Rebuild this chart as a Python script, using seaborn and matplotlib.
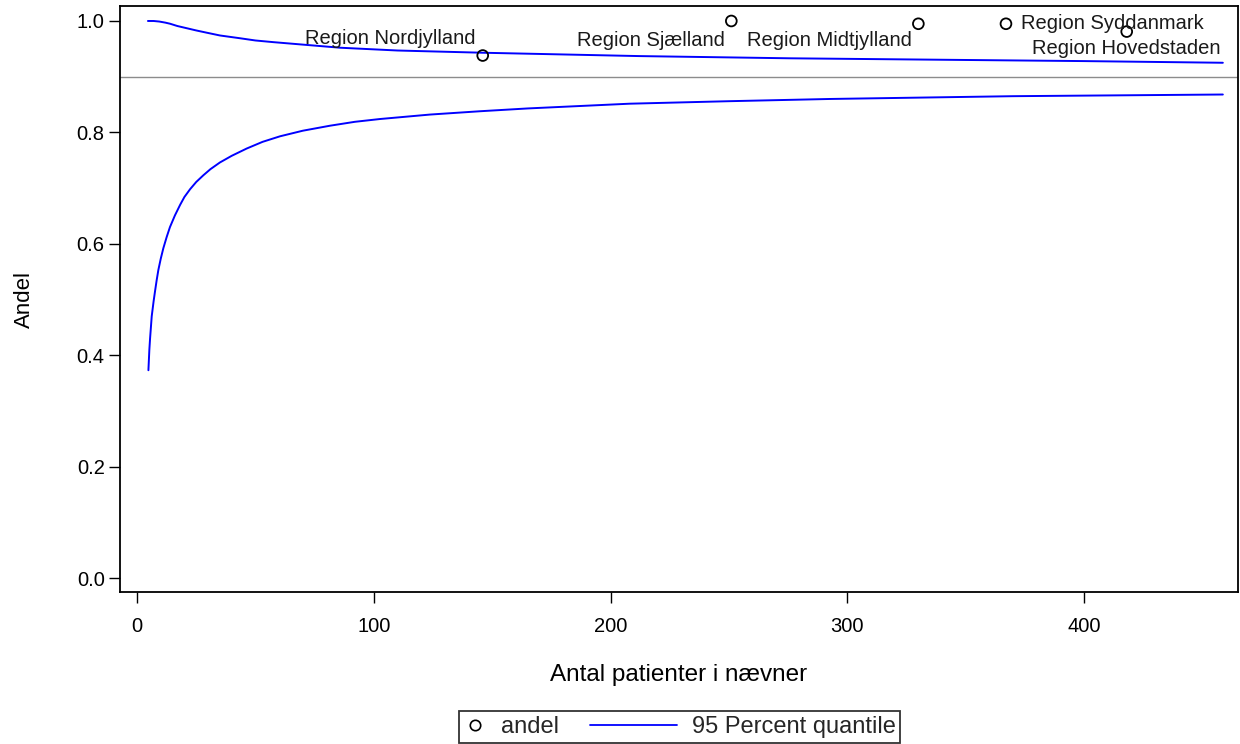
import matplotlib
matplotlib.use("Agg")
import matplotlib.pyplot as plt
import seaborn as sns
import pandas as pd
from matplotlib.lines import Line2D
from matplotlib.legend_handler import HandlerLine2D

# Regions: denominator (patients) and observed proportion
regions = ["Region Nordjylland", "Region Sjælland", "Region Midtjylland",
           "Region Syddanmark", "Region Hovedstaden"]
n_patients = [146, 251, 330, 367, 418]
andel = [0.938, 1.0, 0.995, 0.995, 0.981]

# Target proportion
target = 0.9

# 95 percent quantile limits, upper branch
upper_n = [4.6, 7.0, 9.4, 12.0, 14.0, 17.0, 21.0, 25.0, 29.4, 35.0, 43.5, 50.0,
           57.6, 71.7, 85.8, 110.0, 146.0, 212.0, 276.0, 350.0, 400.0, 458.6]
upper_q = [1.000, 1.000, 0.999, 0.997, 0.995, 0.991, 0.987, 0.983, 0.979, 0.974,
           0.969, 0.965, 0.962, 0.957, 0.952, 0.947, 0.943, 0.937, 0.933, 0.930,
           0.928, 0.925]

# 95 percent quantile limits, lower branch
lower_n = [4.8, 5.2, 5.5, 6.2, 7.0, 7.6, 8.3, 9.0, 10.0, 11.1, 12.5, 13.9, 16.0,
           18.2, 20.0, 22.4, 25.0, 28.0, 31.0, 35.0, 40.0, 46.3, 53.0, 60.4, 70.0,
           81.5, 92.0, 102.6, 123.7, 145.0, 165.0, 208.0, 250.0, 292.7, 370.0,
           458.6]
lower_q = [0.373, 0.410, 0.430, 0.470, 0.497, 0.515, 0.535, 0.553, 0.573, 0.592,
           0.612, 0.630, 0.651, 0.670, 0.684, 0.698, 0.711, 0.723, 0.734, 0.746,
           0.758, 0.771, 0.783, 0.793, 0.803, 0.812, 0.819, 0.824, 0.832, 0.838,
           0.843, 0.8515, 0.856, 0.860, 0.865, 0.868]

x_ticks = [0, 100, 200, 300, 400]
y_ticks = [0.0, 0.2, 0.4, 0.6, 0.8, 1.0]

points = pd.DataFrame({"region": regions, "n": n_patients, "andel": andel})
upper = pd.DataFrame({"n": upper_n, "q": upper_q})
lower = pd.DataFrame({"n": lower_n, "q": lower_q})

sns.set_theme(style="white")
plt.rcParams["font.family"] = ["Liberation Sans", "DejaVu Sans"]

fig = plt.figure(figsize=(12.4, 7.44), dpi=100)
ax = fig.add_axes([120 / 1240, 1 - 592 / 744, (1238 - 120) / 1240, (592 - 6) / 744])

ax.axhline(target, color="#8c8c8c", linewidth=1.0, zorder=1)

blue = "#0000ff"
sns.lineplot(data=upper, x="n", y="q", ax=ax, color=blue, linewidth=1.4,
             sort=True, estimator=None, zorder=2)
sns.lineplot(data=lower, x="n", y="q", ax=ax, color=blue, linewidth=1.4,
             sort=True, estimator=None, zorder=2)
sns.scatterplot(data=points, x="n", y="andel", ax=ax, marker="o", s=60,
                facecolor="none", edgecolor="black", linewidth=1.3, zorder=3)

# Region labels, offsets in points relative to each marker
label_pos = {
    "Region Nordjylland": ((-5, 8), "right"),
    "Region Sjælland": ((-5, -18), "right"),
    "Region Midtjylland": ((-5, -16), "right"),
    "Region Syddanmark": ((11, -4), "left"),
    "Region Hovedstaden": ((0, -16), "center"),
}
for _, row in points.iterrows():
    (dx, dy), ha = label_pos[row["region"]]
    ax.annotate(row["region"], (row["n"], row["andel"]), xytext=(dx, dy),
                textcoords="offset points", ha=ha, va="baseline",
                fontsize=14.5, color="#1a1a1a")

ax.set_xlim(-7.2, 465.0)
ax.set_ylim(-0.0251, 1.0269)
ax.set_xticks(x_ticks)
ax.set_xticklabels([str(v) for v in x_ticks])
ax.set_yticks(y_ticks)
ax.set_yticklabels([f"{v:.1f}" for v in y_ticks])
ax.tick_params(axis="both", direction="out", length=8, width=1.0,
               color="black", labelsize=14.5, labelcolor="black",
               bottom=True, left=True)
ax.tick_params(axis="x", pad=10)
ax.tick_params(axis="y", pad=3)
for sp in ax.spines.values():
    sp.set_color("black")
    sp.set_linewidth(1.3)

ax.set_xlabel("Antal patienter i nævner", fontsize=17.5, color="black", labelpad=20)
ax.set_ylabel("Andel", fontsize=16, color="black", labelpad=30)


class WideLineHandler(HandlerLine2D):
    """Line handle that reaches left past its handle box."""

    def create_artists(self, legend, orig_handle, xdescent, ydescent,
                       width, height, fontsize, trans):
        extra = 2.7 * fontsize
        y = height / 2 - ydescent
        line = Line2D([-xdescent - extra, width - xdescent], [y, y])
        self.update_prop(line, orig_handle, legend)
        line.set_marker("")
        line.set_transform(trans)
        return [line]


marker_handle = Line2D([], [], marker="o", linestyle="none", markerfacecolor="none",
                       markeredgecolor="black", markersize=7.5, markeredgewidth=1.2,
                       label="andel")
line_handle = Line2D([], [], color=blue, linewidth=1.3, label="95 Percent quantile")
leg = fig.legend(handles=[marker_handle, line_handle], loc="lower center",
                 bbox_to_anchor=(0.548, 0.0), borderaxespad=0.05,
                 ncol=2, frameon=True, fancybox=False, fontsize=17,
                 handlelength=1.0, handletextpad=0.6, columnspacing=4.0,
                 borderpad=0.2, edgecolor="black",
                 handler_map={line_handle: WideLineHandler()})
leg.get_frame().set_linewidth(1.3)

fig.savefig("out.png", dpi=100)
